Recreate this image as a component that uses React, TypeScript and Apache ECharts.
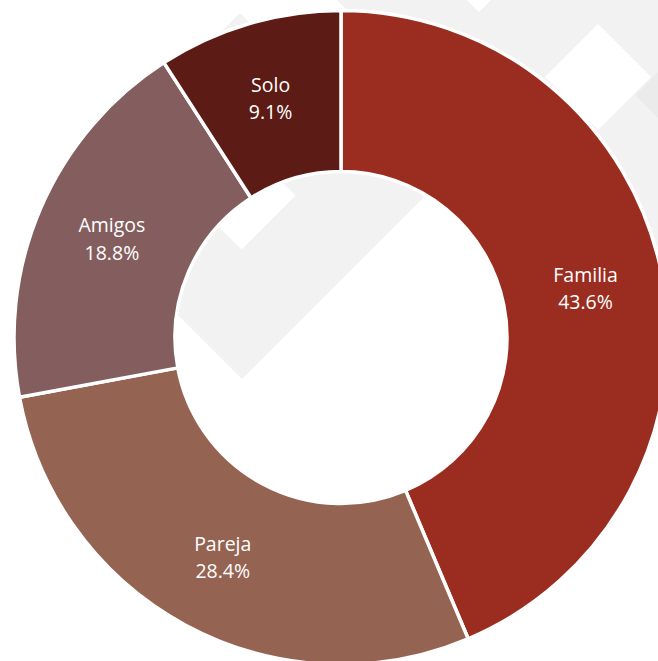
import React, { useEffect, useRef } from "react";
import * as echarts from "echarts";

const categories = ["Familia", "Pareja", "Amigos", "Solo"];
const values = [43.6, 28.4, 18.8, 9.1];
const colors = ["#9B2D20", "#956352", "#845E5E", "#5D1B15"];

const GREY = "#f2f2f2";

export default function App() {
  const ref = useRef<HTMLDivElement>(null);

  useEffect(() => {
    if (!ref.current) return;
    const chart = echarts.init(ref.current, undefined, { renderer: "svg" });
    const poly = (points: number[][], fill: string) => ({
      type: "polygon",
      z: 0,
      silent: true,
      shape: { points },
      style: { fill },
    });
    chart.setOption({
      animation: false,
      backgroundColor: "#ffffff",
      graphic: [
        poly([[337, 0], [658, 0], [658, 321]], GREY),
        poly([[467, 0], [491, 0], [479, 12]], "#ffffff"),
        poly([[598, 24], [651, 77], [598, 130], [545, 77]], "#ffffff"),
        poly([[635, 95], [658, 72], [658, 118]], "#ebebeb"),
        poly([[240, 13], [424, 197], [242, 379], [58, 195]], GREY),
        poly([[122.5, 130.5], [176.5, 76.5], [295.5, 195.5], [241.5, 249.5]], "#ffffff"),
      ],
      series: [
        {
          type: "pie",
          center: [341, 337.5],
          radius: [166, 327],
          startAngle: 90,
          clockwise: true,
          avoidLabelOverlap: false,
          itemStyle: { borderColor: "#ffffff", borderWidth: 3.5 },
          label: {
            show: true,
            position: "inside",
            color: "#ffffff",
            fontFamily: "Open Sans",
            fontSize: 19.5,
            lineHeight: 27.5,
            formatter: (p: any) => `${p.name}\n${p.value.toFixed(1)}%`,
          },
          labelLine: { show: false },
          emphasis: { disabled: true },
          data: categories.map((name, i) => ({
            name,
            value: values[i],
            itemStyle: { color: colors[i] },
          })),
        },
      ],
    });
    return () => chart.dispose();
  }, []);

  return (
    <div
      ref={ref}
      style={{ position: "fixed", left: 0, top: 0, width: 658, height: 661 }}
    />
  );
}
